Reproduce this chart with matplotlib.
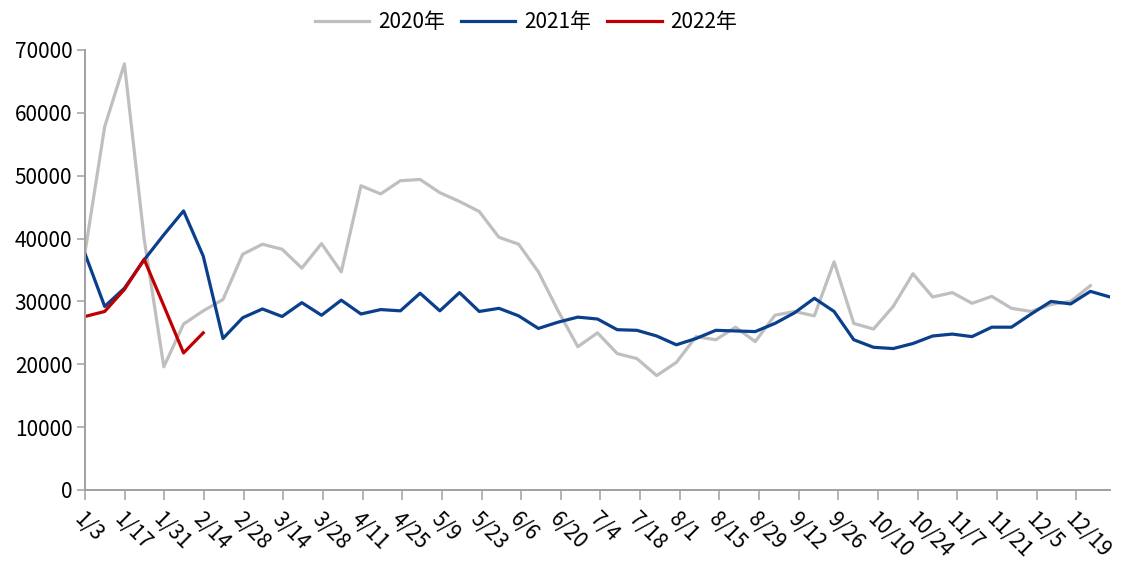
import numpy as np
import matplotlib
matplotlib.use('Agg')
import matplotlib.pyplot as plt

plt.rcParams['font.family'] = ['Noto Sans CJK SC', 'DejaVu Sans']

# 周次标签（两周一个）
tick_labels = ['1/3', '1/17', '1/31', '2/14', '2/28', '3/14', '3/28', '4/11', '4/25',
               '5/9', '5/23', '6/6', '6/20', '7/4', '7/18', '8/1', '8/15', '8/29',
               '9/12', '9/26', '10/10', '10/24', '11/7', '11/21', '12/5', '12/19']

# 2020年
y2020 = [37800, 57800, 67800, 40000, 19600, 26400, 28500, 30300, 37500, 39100,
         38300, 35300, 39200, 34700, 48400, 47100, 49200, 49400, 47300, 45900,
         44300, 40200, 39100, 34700, 28500, 22800, 25000, 21700, 20900, 18200,
         20300, 24400, 23900, 25900, 23600, 27800, 28400, 27700, 36300, 26500,
         25600, 29200, 34400, 30700, 31400, 29700, 30800, 28900, 28400, 29500,
         30000, 32500]

# 2021年
y2021 = [37600, 29200, 32100, 36600, 40600, 44400, 37200, 24100, 27400, 28800,
         27600, 29800, 27800, 30200, 28000, 28700, 28500, 31300, 28500, 31400,
         28400, 28900, 27700, 25700, 26700, 27500, 27200, 25500, 25400, 24500,
         23100, 24100, 25400, 25300, 25200, 26500, 28200, 30500, 28400, 23900,
         22700, 22500, 23300, 24500, 24800, 24400, 25900, 25900, 28000, 30000,
         29600, 31600, 30700]

# 2022年
y2022 = [27600, 28400, 31900, 36700, 29300, 21800, 25000]

fig = plt.figure(figsize=(11.24, 5.66), dpi=100)
ax = fig.add_axes([0.0756, 0.1343, 0.912, 0.7774])

ax.plot(np.arange(len(y2020)), y2020, color='#BFBFBF', lw=2.3, label='2020年')
ax.plot(np.arange(len(y2021)), y2021, color='#0A3F8C', lw=2.3, label='2021年')
ax.plot(np.arange(len(y2022)), y2022, color='#C00000', lw=2.3, label='2022年')

ax.set_xlim(0, 52)
ax.set_ylim(0, 70000)
ax.set_yticks(np.arange(0, 70001, 10000))
ax.tick_params(axis='y', labelsize=15, length=6, width=1.1, color='#A0A0A0', pad=3)

# 刻度比数据点略宽一些
tick_pos = np.arange(len(tick_labels)) * 2 * 1.0058
ax.set_xticks(tick_pos)
ax.set_xticklabels(tick_labels, rotation=-45, ha='left', va='top',
                   rotation_mode='anchor', fontsize=15)
ax.tick_params(axis='x', length=7, width=1.1, color='#A0A0A0', pad=6)

for s in ['top', 'right']:
    ax.spines[s].set_visible(False)
for s in ['left', 'bottom']:
    ax.spines[s].set_color('#A0A0A0')
    ax.spines[s].set_linewidth(1.4)

fig.legend(loc='center', bbox_to_anchor=(0.468, 0.961), ncol=3, frameon=False,
           fontsize=15, handlelength=2.6, handletextpad=0.4, columnspacing=0.8)

fig.savefig('out.png', dpi=100)
